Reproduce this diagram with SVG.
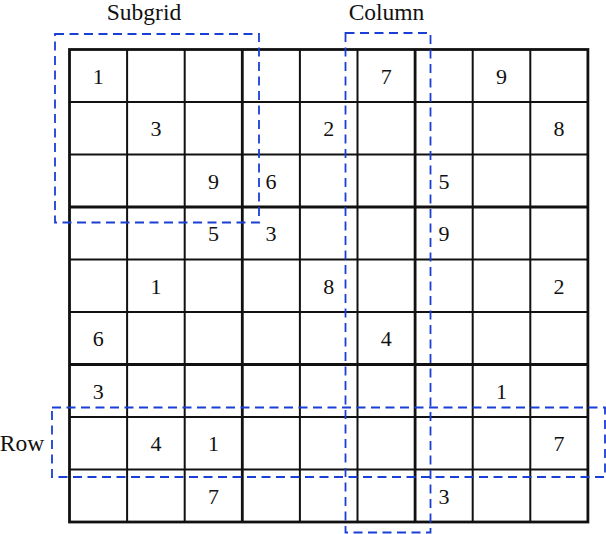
<svg xmlns="http://www.w3.org/2000/svg" width="606" height="534" viewBox="0 0 606 534">
<style>
.thin{stroke:#111;stroke-width:2;fill:none}
.thick{stroke:#111;stroke-width:2.8;fill:none}
.num{font-family:"Liberation Serif",serif;font-size:22px;fill:#111;text-anchor:middle}
.lbl{font-family:"Liberation Serif",serif;font-size:23.5px;fill:#111;text-anchor:middle}
.dash{stroke:#1a3fd6;stroke-width:1.8;fill:none;stroke-dasharray:9 5.5}
</style>
<rect width="606" height="534" fill="#fff"/>
<g id="grid">
<g class="thin">
<line x1="127.1" y1="49.5" x2="127.1" y2="522"/>
<line x1="184.7" y1="49.5" x2="184.7" y2="522"/>
<line x1="299.9" y1="49.5" x2="299.9" y2="522"/>
<line x1="357.5" y1="49.5" x2="357.5" y2="522"/>
<line x1="472.7" y1="49.5" x2="472.7" y2="522"/>
<line x1="530.3" y1="49.5" x2="530.3" y2="522"/>
<line x1="69.5" y1="102" x2="587.9" y2="102"/>
<line x1="69.5" y1="154.5" x2="587.9" y2="154.5"/>
<line x1="69.5" y1="259.5" x2="587.9" y2="259.5"/>
<line x1="69.5" y1="312" x2="587.9" y2="312"/>
<line x1="69.5" y1="417" x2="587.9" y2="417"/>
<line x1="69.5" y1="469.5" x2="587.9" y2="469.5"/>
</g>
<g class="thick">
<line x1="242.3" y1="49.5" x2="242.3" y2="522"/>
<line x1="415.1" y1="49.5" x2="415.1" y2="522"/>
<line x1="69.5" y1="207" x2="587.9" y2="207"/>
<line x1="69.5" y1="364.5" x2="587.9" y2="364.5"/>
<rect x="69.5" y="49.5" width="518.4" height="472.5"/>
</g>
</g>
<g id="numbers" class="num">
<text x="98.3" y="83.5">1</text>
<text x="386.3" y="83.5">7</text>
<text x="501.5" y="83.5">9</text>
<text x="155.9" y="136">3</text>
<text x="328.7" y="136">2</text>
<text x="559.1" y="136">8</text>
<text x="213.5" y="188.5">9</text>
<text x="271.1" y="188.5">6</text>
<text x="443.9" y="188.5">5</text>
<text x="213.5" y="241">5</text>
<text x="271.1" y="241">3</text>
<text x="443.9" y="241">9</text>
<text x="155.9" y="293.5">1</text>
<text x="328.7" y="293.5">8</text>
<text x="559.1" y="293.5">2</text>
<text x="98.3" y="346">6</text>
<text x="386.3" y="346">4</text>
<text x="98.3" y="398.5">3</text>
<text x="501.5" y="398.5">1</text>
<text x="155.9" y="451">4</text>
<text x="213.5" y="451">1</text>
<text x="559.1" y="451">7</text>
<text x="213.5" y="503.5">7</text>
<text x="443.9" y="503.5">3</text>
</g>
<g id="subgrid">
<rect class="dash" x="55" y="34" width="204" height="188.5"/>
<text class="lbl" x="144" y="20">Subgrid</text>
</g>
<g id="column">
<rect class="dash" x="345.5" y="33" width="85" height="499.5"/>
<text class="lbl" x="386.5" y="20">Column</text>
</g>
<g id="row">
<rect class="dash" x="52" y="407.5" width="553" height="69.5"/>
<text class="lbl" x="22" y="451">Row</text>
</g>
</svg>
